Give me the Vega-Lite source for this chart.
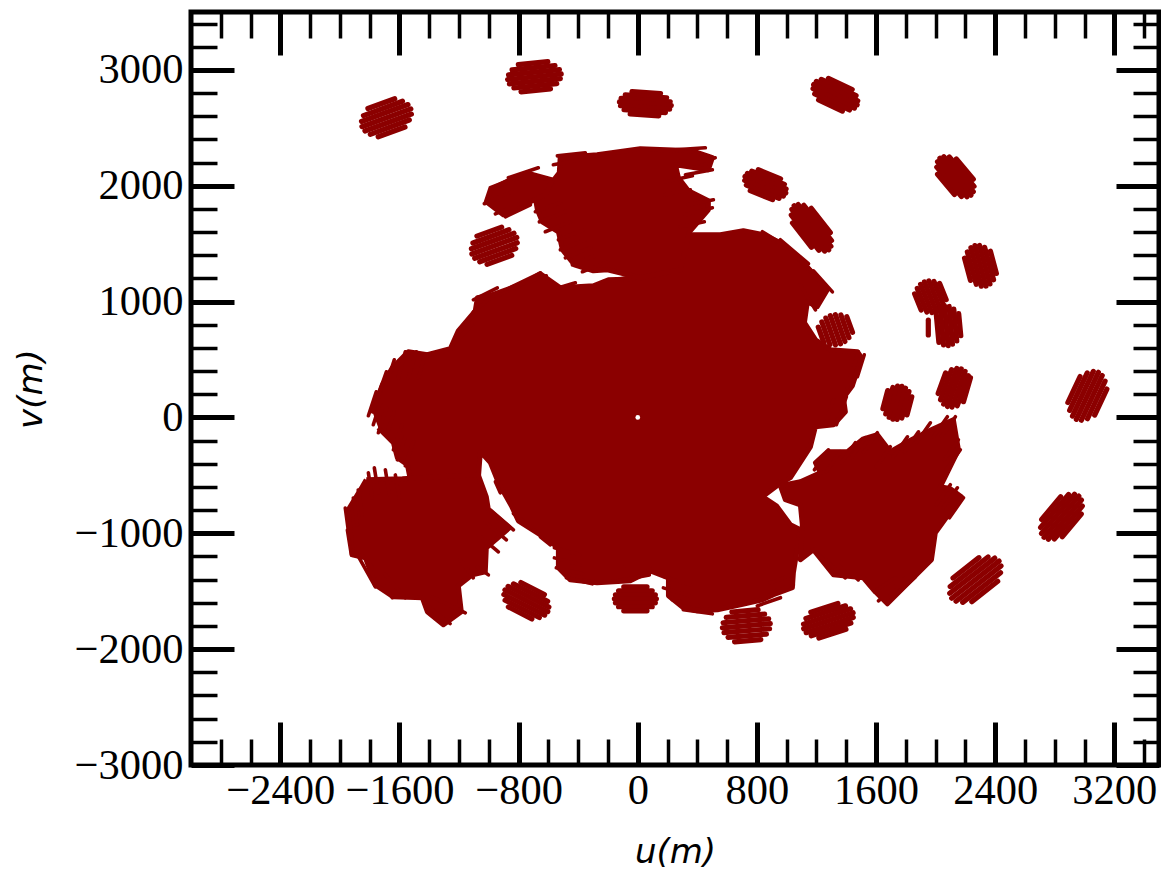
{"$schema":"https://vega.github.io/schema/vega-lite/v6.json","width":968,"height":753,"padding":{"left":191,"top":12,"right":2,"bottom":105},"autosize":{"type":"none"},"background":"white",
"config":{"view":{"stroke":"black","strokeWidth":5},"axis":{"grid":false,"labelFont":"Liberation Serif","labelFontSize":42.5,"labelColor":"black","titleColor":"black","domain":false,"tickColor":"black","labelOverlap":false,"labelFlush":false}},
"datasets":{
"main":[{"i":1,"u":-1782,"v":49},{"i":2,"u":-1715,"v":282},{"i":3,"u":-1648,"v":429},{"i":4,"u":-1541,"v":567},{"i":5,"u":-1413,"v":541},{"i":6,"u":-1259,"v":593},{"i":7,"u":-1205,"v":748},{"i":8,"u":-1091,"v":921},{"i":9,"u":-1077,"v":1033},{"i":10,"u":-923,"v":1068},{"i":11,"u":-835,"v":1128},{"i":12,"u":-654,"v":1240},{"i":13,"u":-520,"v":1119},{"i":14,"u":-298,"v":1136},{"i":15,"u":-197,"v":1188},{"i":16,"u":-30,"v":1196},{"i":17,"u":17,"v":1274},{"i":18,"u":353,"v":1577},{"i":19,"u":555,"v":1577},{"i":20,"u":709,"v":1612},{"i":21,"u":844,"v":1577},{"i":22,"u":958,"v":1508},{"i":23,"u":1126,"v":1318},{"i":24,"u":1273,"v":1102},{"i":25,"u":1205,"v":956},{"i":26,"u":1139,"v":999},{"i":27,"u":1119,"v":818},{"i":28,"u":1193,"v":671},{"i":29,"u":1293,"v":585},{"i":30,"u":1475,"v":568},{"i":31,"u":1502,"v":516},{"i":32,"u":1441,"v":274},{"i":33,"u":1381,"v":170},{"i":34,"u":1394,"v":49},{"i":35,"u":1314,"v":-63},{"i":36,"u":1193,"v":-80},{"i":37,"u":1159,"v":-253},{"i":38,"u":1025,"v":-520},{"i":39,"u":944,"v":-580},{"i":40,"u":837,"v":-684},{"i":41,"u":931,"v":-762},{"i":42,"u":1025,"v":-926},{"i":43,"u":1092,"v":-969},{"i":44,"u":1045,"v":-1340},{"i":45,"u":1038,"v":-1470},{"i":46,"u":911,"v":-1530},{"i":47,"u":837,"v":-1574},{"i":48,"u":689,"v":-1617},{"i":49,"u":535,"v":-1660},{"i":50,"u":400,"v":-1668},{"i":51,"u":306,"v":-1642},{"i":52,"u":206,"v":-1539},{"i":53,"u":206,"v":-1384},{"i":54,"u":85,"v":-1324},{"i":55,"u":-50,"v":-1410},{"i":56,"u":-273,"v":-1427},{"i":57,"u":-454,"v":-1401},{"i":58,"u":-533,"v":-1298},{"i":59,"u":-533,"v":-1125},{"i":60,"u":-654,"v":-1013},{"i":61,"u":-802,"v":-892},{"i":62,"u":-849,"v":-762},{"i":63,"u":-936,"v":-563},{"i":64,"u":-990,"v":-390},{"i":65,"u":-1057,"v":-295},{"i":66,"u":-1071,"v":-537},{"i":67,"u":-1527,"v":-537},{"i":68,"u":-1547,"v":-408},{"i":69,"u":-1614,"v":-348},{"i":70,"u":-1641,"v":-218},{"i":71,"u":-1742,"v":-89}],
"lobes":[
{"r":"a","i":1,"u":347,"v":1603},{"r":"a","i":2,"u":474,"v":1793},{"r":"a","i":3,"u":474,"v":1871},{"r":"a","i":4,"u":340,"v":1957},{"r":"a","i":5,"u":273,"v":2069},{"r":"a","i":6,"u":253,"v":2181},{"r":"a","i":7,"u":474,"v":2138},{"r":"a","i":8,"u":501,"v":2242},{"r":"a","i":9,"u":367,"v":2302},{"r":"a","i":10,"u":17,"v":2319},{"r":"a","i":11,"u":-273,"v":2268},{"r":"a","i":12,"u":-521,"v":2242},{"r":"a","i":13,"u":-527,"v":2112},{"r":"a","i":14,"u":-574,"v":2034},{"r":"a","i":15,"u":-688,"v":1896},{"r":"a","i":16,"u":-674,"v":1793},{"r":"a","i":17,"u":-641,"v":1689},{"r":"a","i":18,"u":-533,"v":1603},{"r":"a","i":19,"u":-506,"v":1448},{"r":"a","i":20,"u":-426,"v":1318},{"r":"a","i":21,"u":-298,"v":1266},{"r":"a","i":22,"u":-204,"v":1275},{"r":"a","i":23,"u":17,"v":1206},{"r":"a","i":24,"u":286,"v":1275},{"r":"a","i":25,"u":347,"v":1603},
{"r":"b","i":1,"u":-574,"v":2051},{"r":"b","i":2,"u":-721,"v":2103},{"r":"b","i":3,"u":-856,"v":2051},{"r":"b","i":4,"u":-990,"v":1966},{"r":"b","i":5,"u":-1017,"v":1862},{"r":"b","i":6,"u":-903,"v":1750},{"r":"b","i":7,"u":-721,"v":1862},{"r":"b","i":8,"u":-621,"v":1923},{"r":"b","i":9,"u":-574,"v":2051},
{"r":"c","i":1,"u":-1823,"v":-538},{"r":"c","i":2,"u":-1581,"v":-529},{"r":"c","i":3,"u":-1071,"v":-495},{"r":"c","i":4,"u":-1017,"v":-685},{"r":"c","i":5,"u":-1003,"v":-797},{"r":"c","i":6,"u":-862,"v":-953},{"r":"c","i":7,"u":-1017,"v":-1125},{"r":"c","i":8,"u":-1024,"v":-1332},{"r":"c","i":9,"u":-1111,"v":-1358},{"r":"c","i":10,"u":-1205,"v":-1453},{"r":"c","i":11,"u":-1185,"v":-1677},{"r":"c","i":12,"u":-1305,"v":-1789},{"r":"c","i":13,"u":-1413,"v":-1677},{"r":"c","i":14,"u":-1447,"v":-1556},{"r":"c","i":15,"u":-1641,"v":-1548},{"r":"c","i":16,"u":-1762,"v":-1445},{"r":"c","i":17,"u":-1829,"v":-1211},{"r":"c","i":18,"u":-1917,"v":-1185},{"r":"c","i":19,"u":-1944,"v":-797},{"r":"c","i":20,"u":-1850,"v":-598},{"r":"c","i":21,"u":-1823,"v":-538},
{"r":"d","i":1,"u":958,"v":-590},{"r":"d","i":2,"u":1092,"v":-555},{"r":"d","i":3,"u":1226,"v":-477},{"r":"d","i":4,"u":1193,"v":-391},{"r":"d","i":5,"u":1273,"v":-296},{"r":"d","i":6,"u":1408,"v":-296},{"r":"d","i":7,"u":1515,"v":-184},{"r":"d","i":8,"u":1609,"v":-149},{"r":"d","i":9,"u":1696,"v":-296},{"r":"d","i":10,"u":1811,"v":-210},{"r":"d","i":11,"u":1985,"v":-98},{"r":"d","i":12,"u":2119,"v":-20},{"r":"d","i":13,"u":2153,"v":-279},{"r":"d","i":14,"u":2032,"v":-598},{"r":"d","i":15,"u":2099,"v":-615},{"r":"d","i":16,"u":2173,"v":-684},{"r":"d","i":17,"u":1998,"v":-995},{"r":"d","i":18,"u":1972,"v":-1228},{"r":"d","i":19,"u":1837,"v":-1401},{"r":"d","i":20,"u":1676,"v":-1608},{"r":"d","i":21,"u":1582,"v":-1487},{"r":"d","i":22,"u":1515,"v":-1384},{"r":"d","i":23,"u":1314,"v":-1358},{"r":"d","i":24,"u":1179,"v":-1142},{"r":"d","i":25,"u":1092,"v":-1228},{"r":"d","i":26,"u":1105,"v":-926},{"r":"d","i":27,"u":1092,"v":-754},{"r":"d","i":28,"u":991,"v":-710},{"r":"d","i":29,"u":958,"v":-590}],
"hole":[{"u":0,"v":0}],
"edges":[
{"u":-1608,"v":343,"u2":-1561,"v2":567},{"u":-1541,"v":343,"u2":-1487,"v2":567},{"u":-1473,"v":343,"u2":-1427,"v2":550},{"u":-1688,"v":282,"u2":-1635,"v2":498},{"u":-1742,"v":196,"u2":-1688,"v2":394},{"u":-1782,"v":49,"u2":-1722,"v2":256},{"u":-1809,"v":15,"u2":-1756,"v2":222},{"u":-1776,"v":-63,"u2":-1722,"v2":153},{"u":-1742,"v":-132,"u2":-1688,"v2":84},{"u":-1688,"v":-158,"u2":-1635,"v2":49},{"u":-1641,"v":-279,"u2":-1581,"v2":-63},{"u":-1614,"v":-366,"u2":-1561,"v2":-167},{"u":-1561,"v":-418,"u2":-1507,"v2":-210},
{"u":-1245,"v":627,"u2":-1111,"v2":800},{"u":-1205,"v":740,"u2":-1071,"v2":912},{"u":-1104,"v":912,"u2":-990,"v2":1033},{"u":-1104,"v":1016,"u2":-943,"v2":1119},{"u":-990,"v":1059,"u2":-822,"v2":1137},{"u":-842,"v":1102,"u2":-654,"v2":1249},{"u":-789,"v":1145,"u2":-614,"v2":1223},{"u":-530,"v":1119,"u2":-419,"v2":1162},{"u":-238,"v":1171,"u2":-36,"v2":1214},
{"u":-540,"v":2258,"u2":-352,"v2":2285},{"u":-567,"v":2181,"u2":-385,"v2":2224},{"u":-688,"v":1776,"u2":-520,"v2":1853},{"u":-661,"v":1689,"u2":-486,"v2":1776},{"u":-621,"v":1603,"u2":-453,"v2":1689},{"u":-533,"v":1534,"u2":-365,"v2":1620},{"u":-520,"v":1448,"u2":-352,"v2":1534},{"u":-486,"v":1378,"u2":-318,"v2":1465},{"u":-439,"v":1318,"u2":-271,"v2":1404},{"u":-372,"v":1258,"u2":-204,"v2":1344},{"u":353,"v":1966,"u2":184,"v2":1922},{"u":367,"v":2086,"u2":184,"v2":2034},{"u":520,"v":2242,"u2":353,"v2":2181},{"u":501,"v":2138,"u2":320,"v2":2095},{"u":454,"v":2328,"u2":253,"v2":2311},{"u":501,"v":1810,"u2":320,"v2":1750},{"u":508,"v":1879,"u2":340,"v2":1836},{"u":447,"v":1689,"u2":286,"v2":1646},
{"u":958,"v":1534,"u2":1146,"v2":1327},{"u":1179,"v":1266,"u2":1307,"v2":1084},{"u":1092,"v":1361,"u2":1260,"v2":1145},{"u":1092,"v":1145,"u2":1193,"v2":929},{"u":837,"v":1603,"u2":991,"v2":1482},
{"u":1475,"v":352,"u2":1521,"v2":541},{"u":1408,"v":257,"u2":1481,"v2":567},{"u":1334,"v":-63,"u2":1401,"v2":179},{"u":1260,"v":-63,"u2":1314,"v2":153},
{"u":1280,"v":-279,"u2":1186,"v2":-452},{"u":1360,"v":-296,"u2":1266,"v2":-469},{"u":1461,"v":-218,"u2":1367,"v2":-391},{"u":1528,"v":-175,"u2":1434,"v2":-348},{"u":1609,"v":-132,"u2":1515,"v2":-305},{"u":1696,"v":-253,"u2":1602,"v2":-426},{"u":1811,"v":-167,"u2":1717,"v2":-339},{"u":1885,"v":-124,"u2":1791,"v2":-296},{"u":1965,"v":-46,"u2":1871,"v2":-218},{"u":2079,"v":6,"u2":1985,"v2":-167},{"u":2133,"v":6,"u2":2039,"v2":-167},{"u":2166,"v":-279,"u2":2072,"v2":-452},{"u":2153,"v":-192,"u2":2059,"v2":-365},{"u":2099,"v":-581,"u2":2005,"v2":-753},{"u":2146,"v":-607,"u2":2052,"v2":-779},{"u":2187,"v":-693,"u2":2093,"v2":-866},
{"u":1864,"v":-1376,"u2":1696,"v2":-1574},{"u":1817,"v":-1359,"u2":1616,"v2":-1583},{"u":1730,"v":-1384,"u2":1589,"v2":-1505},{"u":1193,"v":-1160,"u2":1327,"v2":-1333},{"u":1260,"v":-1229,"u2":1394,"v2":-1384},{"u":1360,"v":-1246,"u2":1481,"v2":-1402},
{"u":-560,"v":-1125,"u2":-386,"v2":-1186},{"u":-560,"v":-1212,"u2":-386,"v2":-1272},{"u":-547,"v":-1298,"u2":-372,"v2":-1350},{"u":-479,"v":-1384,"u2":-305,"v2":-1436},{"u":85,"v":-1280,"u2":-83,"v2":-1280},{"u":78,"v":-1359,"u2":-103,"v2":-1402},{"u":179,"v":-1376,"u2":353,"v2":-1444},{"u":172,"v":-1471,"u2":353,"v2":-1540},{"u":232,"v":-1574,"u2":407,"v2":-1626},{"u":306,"v":-1660,"u2":501,"v2":-1695},{"u":958,"v":-1556,"u2":803,"v2":-1626},{"u":1045,"v":-1444,"u2":891,"v2":-1513},{"u":1038,"v":-1358,"u2":891,"v2":-1427},
{"u":-835,"v":-829,"u2":-714,"v2":-950},{"u":-654,"v":-1030,"u2":-587,"v2":-1099},{"u":-956,"v":-555,"u2":-923,"v2":-650},
{"u":-1964,"v":-782,"u2":-1944,"v2":-972},{"u":-1950,"v":-972,"u2":-1923,"v2":-1188},{"u":-1910,"v":-695,"u2":-1883,"v2":-928},{"u":-1877,"v":-626,"u2":-1850,"v2":-841},{"u":-1809,"v":-478,"u2":-1783,"v2":-693},{"u":-1769,"v":-435,"u2":-1742,"v2":-650},{"u":-1695,"v":-452,"u2":-1668,"v2":-667},{"u":-1628,"v":-496,"u2":-1601,"v2":-695},
{"u":-990,"v":-797,"u2":-835,"v2":-970},{"u":-1024,"v":-901,"u2":-882,"v2":-1056},{"u":-1071,"v":-1013,"u2":-936,"v2":-1160},{"u":-1077,"v":-1290,"u2":-1003,"v2":-1359},{"u":-1191,"v":-1229,"u2":-1104,"v2":-1385},{"u":-1380,"v":-1548,"u2":-1158,"v2":-1686},{"u":-1400,"v":-1640,"u2":-1260,"v2":-1780},{"u":-1883,"v":-1185,"u2":-1762,"v2":-1462},{"u":-1796,"v":-1271,"u2":-1648,"v2":-1556},{"u":-1695,"v":-1358,"u2":-1561,"v2":-1556},
{"u":-869,"v":2069,"u2":-668,"v2":2155},{"u":-990,"v":1983,"u2":-788,"v2":2086},{"u":-1030,"v":1845,"u2":-842,"v2":1948},{"u":-956,"v":1758,"u2":-755,"v2":1862},{"u":-889,"v":1732,"u2":-721,"v2":1836}
],
"tracks":[
{"u":-1812,"v":2667,"u2":-1632,"v2":2751},{"u":-1842,"v":2606,"u2":-1580,"v2":2730},{"u":-1855,"v":2555,"u2":-1543,"v2":2701},{"u":-1852,"v":2510,"u2":-1524,"v2":2664},{"u":-1832,"v":2473,"u2":-1520,"v2":2619},{"u":-1796,"v":2444,"u2":-1534,"v2":2568},{"u":-1743,"v":2423,"u2":-1563,"v2":2507},
{"u":-802,"v":3045,"u2":-604,"v2":3071},{"u":-844,"v":3000,"u2":-556,"v2":3038},{"u":-868,"v":2957,"u2":-526,"v2":3003},{"u":-874,"v":2917,"u2":-514,"v2":2965},{"u":-862,"v":2879,"u2":-520,"v2":2925},{"u":-832,"v":2844,"u2":-544,"v2":2882},{"u":-784,"v":2811,"u2":-586,"v2":2837},
{"u":-39,"v":2813,"u2":153,"v2":2795},{"u":-84,"v":2785,"u2":194,"v2":2759},{"u":-112,"v":2755,"u2":218,"v2":2725},{"u":-123,"v":2724,"u2":225,"v2":2692},{"u":-116,"v":2691,"u2":214,"v2":2661},{"u":-92,"v":2657,"u2":186,"v2":2631},{"u":-51,"v":2621,"u2":141,"v2":2603},
{"u":1280,"v":2927,"u2":1440,"v2":2831},{"u":1232,"v":2918,"u2":1466,"v2":2778},{"u":1199,"v":2901,"u2":1477,"v2":2733},{"u":1181,"v":2874,"u2":1473,"v2":2698},{"u":1177,"v":2839,"u2":1455,"v2":2671},{"u":1188,"v":2794,"u2":1422,"v2":2654},{"u":1214,"v":2741,"u2":1374,"v2":2645},
{"u":2139,"v":2231,"u2":2253,"v2":2057},{"u":2092,"v":2249,"u2":2258,"v2":1995},{"u":2055,"v":2251,"u2":2253,"v2":1949},{"u":2029,"v":2237,"u2":2237,"v2":1919},{"u":2013,"v":2207,"u2":2211,"v2":1905},{"u":2008,"v":2161,"u2":2174,"v2":1907},{"u":2013,"v":2099,"u2":2127,"v2":1925},
{"u":809,"v":2138,"u2":959,"v2":2060},{"u":765,"v":2126,"u2":985,"v2":2012},{"u":736,"v":2106,"u2":996,"v2":1972},{"u":720,"v":2080,"u2":994,"v2":1938},{"u":718,"v":2046,"u2":978,"v2":1912},{"u":729,"v":2006,"u2":949,"v2":1892},{"u":755,"v":1958,"u2":905,"v2":1880},
{"u":1165,"v":1805,"u2":1293,"v2":1595},{"u":1115,"v":1831,"u2":1301,"v2":1527},{"u":1077,"v":1838,"u2":1297,"v2":1478},{"u":1050,"v":1827,"u2":1282,"v2":1447},{"u":1035,"v":1796,"u2":1255,"v2":1436},{"u":1031,"v":1747,"u2":1217,"v2":1443},{"u":1039,"v":1679,"u2":1167,"v2":1469},
{"u":2368,"v":1435,"u2":2408,"v2":1243},{"u":2329,"v":1469,"u2":2389,"v2":1189},{"u":2295,"v":1485,"u2":2365,"v2":1153},{"u":2264,"v":1484,"u2":2338,"v2":1134},{"u":2237,"v":1465,"u2":2307,"v2":1133},{"u":2213,"v":1429,"u2":2273,"v2":1149},{"u":2194,"v":1375,"u2":2234,"v2":1183},
{"u":2027,"v":1157,"u2":2071,"v2":1017},{"u":1989,"v":1174,"u2":2053,"v2":970},{"u":1955,"v":1179,"u2":2031,"v2":935},{"u":1925,"v":1170,"u2":2005,"v2":914},{"u":1899,"v":1149,"u2":1975,"v2":905},{"u":1877,"v":1114,"u2":1941,"v2":910},{"u":1859,"v":1067,"u2":1903,"v2":927},
{"u":2155,"v":896,"u2":2169,"v2":706},{"u":2122,"v":936,"u2":2142,"v2":660},{"u":2091,"v":958,"u2":2113,"v2":632},{"u":2060,"v":964,"u2":2084,"v2":620},{"u":2031,"v":952,"u2":2053,"v2":626},{"u":2002,"v":924,"u2":2022,"v2":648},{"u":1951,"v":840,"u2":1951,"v2":712},
{"u":1646,"v":76,"u2":1678,"v2":232},{"u":1665,"v":31,"u2":1713,"v2":259},{"u":1688,"v":1,"u2":1744,"v2":271},{"u":1713,"v":-15,"u2":1773,"v2":269},{"u":1742,"v":-17,"u2":1798,"v2":253},{"u":1773,"v":-5,"u2":1821,"v2":223},{"u":1808,"v":22,"u2":1840,"v2":178},
{"u":2017,"v":207,"u2":2067,"v2":385},{"u":2033,"v":153,"u2":2107,"v2":413},{"u":2054,"v":116,"u2":2142,"v2":424},{"u":2080,"v":95,"u2":2172,"v2":419},{"u":2110,"v":90,"u2":2198,"v2":398},{"u":2145,"v":101,"u2":2219,"v2":361},{"u":2187,"v":136,"u2":2234,"v2":343},
{"u":2888,"v":129,"u2":2970,"v2":353},{"u":2900,"v":61,"u2":3018,"v2":385},{"u":2919,"v":12,"u2":3059,"v2":398},{"u":2945,"v":-16,"u2":3093,"v2":390},{"u":2979,"v":-24,"u2":3119,"v2":362},{"u":3020,"v":-11,"u2":3138,"v2":313},{"u":3068,"v":21,"u2":3150,"v2":245},
{"u":2712,"v":-880,"u2":2840,"v2":-684},{"u":2705,"v":-949,"u2":2893,"v2":-665},{"u":2711,"v":-1001,"u2":2933,"v2":-663},{"u":2728,"v":-1035,"u2":2962,"v2":-679},{"u":2757,"v":-1051,"u2":2979,"v2":-713},{"u":2797,"v":-1049,"u2":2985,"v2":-765},{"u":2850,"v":-1030,"u2":2978,"v2":-834},
{"u":2117,"v":-1386,"u2":2291,"v2":-1210},{"u":2098,"v":-1460,"u2":2352,"v2":-1204},{"u":2095,"v":-1518,"u2":2397,"v2":-1214},{"u":2108,"v":-1560,"u2":2426,"v2":-1240},{"u":2137,"v":-1586,"u2":2439,"v2":-1282},{"u":2182,"v":-1596,"u2":2436,"v2":-1340},{"u":2243,"v":-1590,"u2":2417,"v2":-1414},
{"u":1162,"v":-1682,"u2":1344,"v2":-1606},{"u":1129,"v":-1736,"u2":1395,"v2":-1626},{"u":1113,"v":-1784,"u2":1429,"v2":-1652},{"u":1114,"v":-1824,"u2":1446,"v2":-1686},{"u":1131,"v":-1858,"u2":1447,"v2":-1726},{"u":1165,"v":-1884,"u2":1431,"v2":-1774},{"u":1216,"v":-1904,"u2":1398,"v2":-1828},
{"u":632,"v":-1679,"u2":808,"v2":-1659},{"u":594,"v":-1726,"u2":852,"v2":-1698},{"u":573,"v":-1772,"u2":879,"v2":-1738},{"u":568,"v":-1816,"u2":890,"v2":-1780},{"u":579,"v":-1858,"u2":885,"v2":-1824},{"u":606,"v":-1898,"u2":864,"v2":-1870},{"u":650,"v":-1937,"u2":826,"v2":-1917},
{"u":-94,"v":-1462,"u2":62,"v2":-1462},{"u":-129,"v":-1496,"u2":97,"v2":-1496},{"u":-150,"v":-1531,"u2":118,"v2":-1531},{"u":-157,"v":-1565,"u2":125,"v2":-1565},{"u":-150,"v":-1600,"u2":118,"v2":-1600},{"u":-129,"v":-1634,"u2":97,"v2":-1634},{"u":-94,"v":-1669,"u2":62,"v2":-1669},
{"u":-785,"v":-1425,"u2":-627,"v2":-1529},{"u":-835,"v":-1437,"u2":-605,"v2":-1587},{"u":-871,"v":-1458,"u2":-597,"v2":-1636},{"u":-892,"v":-1488,"u2":-604,"v2":-1676},{"u":-899,"v":-1528,"u2":-625,"v2":-1706},{"u":-891,"v":-1577,"u2":-661,"v2":-1727},{"u":-869,"v":-1635,"u2":-711,"v2":-1739},
{"u":-1080,"v":1565,"u2":-914,"v2":1643},{"u":-1107,"v":1506,"u2":-865,"v2":1620},{"u":-1117,"v":1456,"u2":-831,"v2":1590},{"u":-1114,"v":1411,"u2":-812,"v2":1553},{"u":-1095,"v":1374,"u2":-809,"v2":1508},{"u":-1061,"v":1344,"u2":-819,"v2":1458},{"u":-1012,"v":1321,"u2":-846,"v2":1399},
{"u":1404,"v":869,"u2":1442,"v2":735},{"u":1364,"v":885,"u2":1418,"v2":689},{"u":1327,"v":888,"u2":1391,"v2":656},{"u":1293,"v":879,"u2":1361,"v2":635},{"u":1263,"v":858,"u2":1327,"v2":626},{"u":1236,"v":825,"u2":1290,"v2":629},{"u":1212,"v":779,"u2":1250,"v2":645}
]},
"resolve":{"axis":{"x":"independent","y":"independent"}},
"layer":[
{"data":{"name":"main"},"mark":{"type":"line","fill":"#8b0000","stroke":"#8b0000","strokeWidth":5,"strokeJoin":"round"},
"encoding":{"order":{"field":"i","type":"quantitative"},
"x":{"field":"u","type":"quantitative","scale":{"domain":[-3000,3500],"nice":false,"zero":false},"axis":{"orient":"bottom","values":[-2400,-1600,-800,0,800,1600,2400,3200],"tickSize":-43,"tickWidth":5,"labelPadding":47,"format":"d","title":"u(m)","titleFont":"DejaVu Sans","titleFontStyle":"italic","titleFontWeight":"normal","titleFontSize":34,"titlePadding":24}},
"y":{"field":"v","type":"quantitative","scale":{"domain":[-3000,3500],"nice":false,"zero":false},"axis":{"orient":"left","values":[-3000,-2000,-1000,0,1000,2000,3000],"tickSize":-43,"tickWidth":5,"labelPadding":51,"format":"d","title":"v(m)","titleFont":"DejaVu Sans","titleFontStyle":"italic","titleFontWeight":"normal","titleFontSize":34,"titlePadding":26}}}},
{"data":{"name":"lobes"},"mark":{"type":"line","fill":"#8b0000","stroke":"#8b0000","strokeWidth":5,"strokeJoin":"round"},
"encoding":{"order":{"field":"i","type":"quantitative"},"detail":{"field":"r"},
"x":{"field":"u","type":"quantitative","axis":{"orient":"top","values":[-2400,-1600,-800,0,800,1600,2400,3200],"tickSize":-43,"tickWidth":5,"labels":false,"title":null}},
"y":{"field":"v","type":"quantitative","axis":{"orient":"right","values":[-3000,-2000,-1000,0,1000,2000,3000],"tickSize":-43,"tickWidth":5,"labels":false,"title":null}}}},
{"data":{"name":"tracks"},"mark":{"type":"rule","stroke":"#8b0000","strokeWidth":5.2,"strokeCap":"round"},
"encoding":{"x":{"field":"u","type":"quantitative","axis":{"orient":"bottom","values":[-2800,-2600,-2200,-2000,-1800,-1400,-1200,-1000,-600,-400,-200,200,400,600,1000,1200,1400,1800,2000,2200,2600,2800,3000,3400],"tickSize":-26,"tickWidth":3.5,"labels":false,"title":null}},"x2":{"field":"u2"},
"y":{"field":"v","type":"quantitative","axis":{"orient":"left","values":[-2800,-2600,-2400,-2200,-1800,-1600,-1400,-1200,-800,-600,-400,-200,200,400,600,800,1200,1400,1600,1800,2200,2400,2600,2800,3200,3400],"tickSize":-26,"tickWidth":3.5,"labels":false,"title":null}},"y2":{"field":"v2"}}},
{"data":{"name":"edges"},"mark":{"type":"rule","stroke":"#8b0000","strokeWidth":3.6,"strokeCap":"round"},
"encoding":{"x":{"field":"u","type":"quantitative","axis":null},"x2":{"field":"u2"},"y":{"field":"v","type":"quantitative","axis":null},"y2":{"field":"v2"}}},
{"data":{"name":"hole"},"mark":{"type":"point","filled":true,"color":"white","size":22,"opacity":1},
"encoding":{"x":{"field":"u","type":"quantitative","axis":{"orient":"top","values":[-2800,-2600,-2200,-2000,-1800,-1400,-1200,-1000,-600,-400,-200,200,400,600,1000,1200,1400,1800,2000,2200,2600,2800,3000,3400],"tickSize":-26,"tickWidth":3.5,"labels":false,"title":null}},
"y":{"field":"v","type":"quantitative","axis":{"orient":"right","values":[-2800,-2600,-2400,-2200,-1800,-1600,-1400,-1200,-800,-600,-400,-200,200,400,600,800,1200,1400,1600,1800,2200,2400,2600,2800,3200,3400],"tickSize":-26,"tickWidth":3.5,"labels":false,"title":null}}}}
]}
